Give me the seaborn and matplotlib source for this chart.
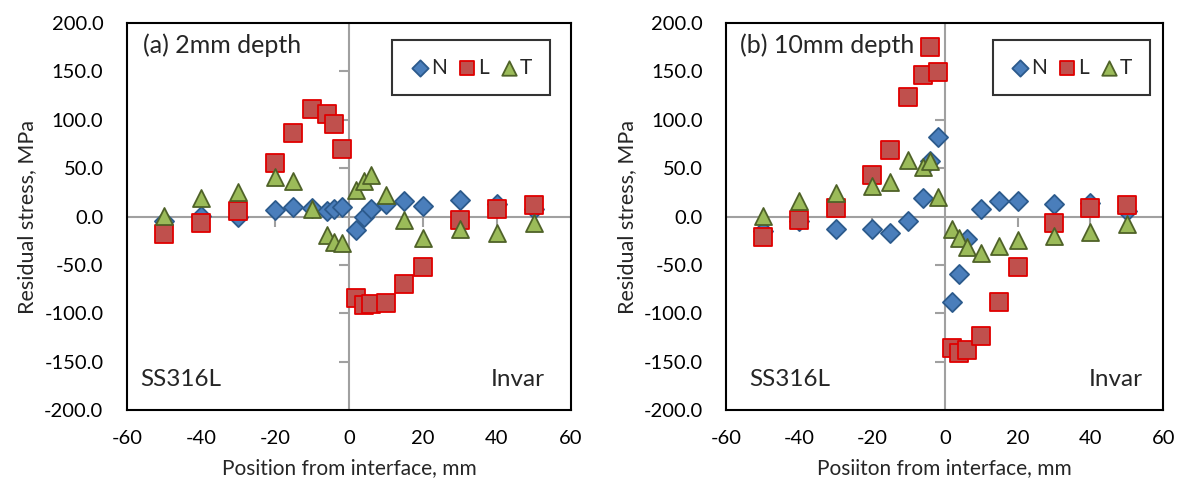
import numpy as np
import pandas as pd
import matplotlib
matplotlib.use("Agg")
import matplotlib.pyplot as plt
import seaborn as sns

# measurement positions (mm from interface)
pos = [-50, -40, -30, -20, -15, -10, -6, -4, -2, 2, 4, 6, 10, 15, 20, 30, 40, 50]

# (a) 2mm depth
n_2mm = [-5, 1, -1, 7, 10, 9, 6, 8, 10, -14, 0, 8, 13, 16, 11, 17, 13, 8]
l_2mm = [-18, -7, 6, 55, 86, 111, 106, 96, 70, -84, -91, -90, -89, -70, -52, -4, 8, 12]
t_2mm = [1, 19, 25, 41, 37, 8, -19, -26, -27, 27, 37, 43, 22, -4, -22, -13, -17, -7]

# (b) 10mm depth
n_10mm = [-15, -5, -13, -13, -17, -5, 19, 57, 82, -88, -59, -23, 8, 16, 16, 13, 14, 6]
l_10mm = [-21, -4, 9, 43, 69, 123, 146, 175, 149, -136, -141, -138, -123, -88, -52, -7, 9, 12]
t_10mm = [1, 16, 24, 31, 36, 58, 51, 57, 20, -13, -22, -31, -38, -30, -24, -20, -16, -8]

x_ticks = [-60, -40, -20, 0, 20, 40, 60]
y_ticks = [-200, -150, -100, -50, 0, 50, 100, 150, 200]

sns.set_style("white")
plt.rcParams['font.family'] = ['Lato', 'DejaVu Sans']
plt.rcParams['axes.unicode_minus'] = False

styles = {
    "N": dict(marker="D", color="#4A7EBB", edgecolor="#2C5A8C", s=95),
    "L": dict(marker="s", color="#C0504D", edgecolor="#E00000", s=150),
    "T": dict(marker="^", color="#9BBB59", edgecolor="#4F6228", s=150),
}

panels = [
    ("(a) 2mm depth", "Position from interface, mm", n_2mm, l_2mm, t_2mm),
    ("(b) 10mm depth", "Posiiton from interface, mm", n_10mm, l_10mm, t_10mm),
]

fig = plt.figure(figsize=(11.87, 4.86), dpi=100)
ax1 = fig.add_axes([0.107, 0.156, 0.374, 0.797])
ax2 = fig.add_axes([0.612, 0.156, 0.368, 0.797])

for ax, (title, xlab, n, l, t) in zip([ax1, ax2], panels):
    df = pd.DataFrame({"pos": pos, "N": n, "L": l, "T": t})
    # zero lines with Excel-like crossing ticks
    ax.axhline(0, color="#A0A0A0", lw=1.5, zorder=1)
    ax.axvline(0, color="#A0A0A0", lw=1.5, zorder=1)
    xt = [v for v in x_ticks if v not in (-60, 0, 60)]
    yt = [v for v in y_ticks if v not in (-200, 0, 200)]
    ax.plot(xt, np.zeros(len(xt)), ls="none", marker=3, ms=7, mew=1.5, color="#A0A0A0", zorder=1)
    ax.plot(np.zeros(len(yt)), yt, ls="none", marker=0, ms=7, mew=1.5, color="#A0A0A0", zorder=1)

    for k in ["N", "L", "T"]:
        st = styles[k]
        sns.scatterplot(data=df, x="pos", y=k, ax=ax, marker=st["marker"], color=st["color"],
                        edgecolor=st["edgecolor"], linewidth=1.3, s=st["s"], label=k, zorder=3)

    ax.set_xlim(-60, 60)
    ax.set_ylim(-200, 200)
    ax.set_xticks(x_ticks)
    ax.set_yticks(y_ticks)
    ax.set_yticklabels([f"{v:.1f}" for v in y_ticks])
    ax.tick_params(axis="both", length=0, labelsize=14.5, colors="black")
    ax.tick_params(axis="y", pad=17)
    ax.tick_params(axis="x", pad=14)
    for sp in ax.spines.values():
        sp.set_visible(True)
        sp.set_color("black")
        sp.set_linewidth(1.5)
    ax.set_xlabel(xlab, fontsize=15, labelpad=8)
    ax.set_ylabel("Residual stress, MPa", fontsize=15.5, labelpad=5)

    ax.text(0.036 if ax is ax1 else 0.03, 0.943, title, transform=ax.transAxes, fontsize=18,
            va="center", ha="left")
    ax.text(0.03 if ax is ax1 else 0.053, 0.078, "SS316L", transform=ax.transAxes,
            fontsize=17.5, va="center", ha="left")
    ax.text(0.941 if ax is ax1 else 0.952, 0.078, "Invar", transform=ax.transAxes,
            fontsize=17.5, va="center", ha="right")

    leg = ax.legend(loc="upper right", bbox_to_anchor=(0.953 if ax is ax1 else 0.970, 0.956),
                    ncol=3, frameon=True, fancybox=False, fontsize=15, handletextpad=0.1,
                    handlelength=0.9, columnspacing=0.5, borderpad=0.85, borderaxespad=0,
                    markerscale=0.85)
    leg.get_frame().set_edgecolor("black")
    leg.get_frame().set_linewidth(1.5)

fig.savefig("out.png", dpi=100)
